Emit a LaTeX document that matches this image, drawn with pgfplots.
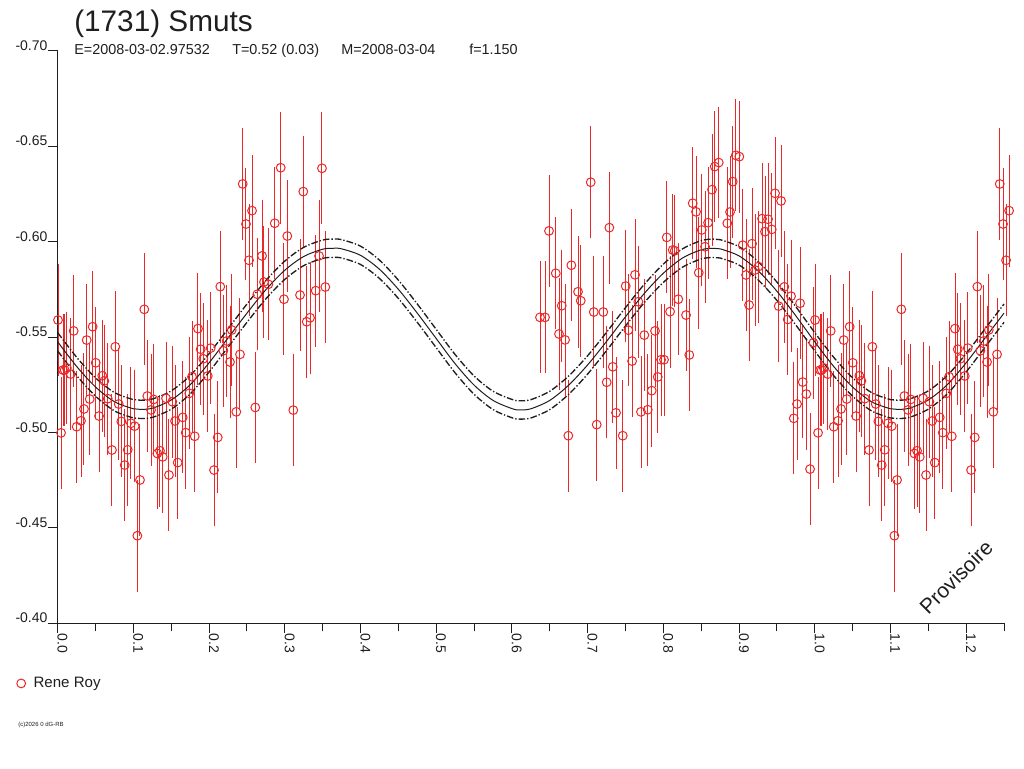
\documentclass[border=0pt]{standalone}
\usepackage{fontspec}
\setmainfont{Liberation Sans}
\usepackage{pgfplots}
\usepackage{pgfplotstable}
\pgfplotsset{compat=1.18}
\definecolor{myred}{RGB}{235,40,40}
\definecolor{ink}{RGB}{30,30,30}

\pgfplotstableread{
x y
0.0004 -0.5589
0.0044 -0.4998
0.0070 -0.5327
0.0092 -0.5327
0.0119 -0.5338
0.0172 -0.5306
0.0211 -0.5532
0.0251 -0.5030
0.0308 -0.5061
0.0347 -0.5123
0.0383 -0.5484
0.0423 -0.5175
0.0462 -0.5554
0.0502 -0.5365
0.0546 -0.5086
0.0589 -0.5297
0.0616 -0.5270
0.0661 -0.5177
0.0717 -0.4908
0.0761 -0.5449
0.0806 -0.5149
0.0840 -0.5058
0.0885 -0.4829
0.0925 -0.4909
0.0968 -0.5048
0.1017 -0.5033
0.1052 -0.4459
0.1087 -0.4751
0.1144 -0.5645
0.1184 -0.5191
0.1233 -0.5118
0.1268 -0.5173
0.1316 -0.4890
0.1351 -0.4904
0.1387 -0.4872
0.1431 -0.5179
0.1470 -0.4777
0.1514 -0.5161
0.1550 -0.5060
0.1585 -0.4842
0.1651 -0.5079
0.1691 -0.4999
0.1738 -0.5205
0.1774 -0.5292
0.1810 -0.4980
0.1853 -0.5544
0.1889 -0.5436
0.1923 -0.5386
0.1982 -0.5296
0.2021 -0.5442
0.2065 -0.4803
0.2114 -0.4974
0.2148 -0.5764
0.2188 -0.5428
0.2232 -0.5479
0.2276 -0.5369
0.2299 -0.5537
0.2359 -0.5108
0.2408 -0.5409
0.2444 -0.6302
0.2487 -0.6092
0.2527 -0.5902
0.2567 -0.6162
0.2610 -0.5131
0.2637 -0.5724
0.2699 -0.5925
0.2725 -0.5788
0.2782 -0.5776
0.2867 -0.6096
0.2946 -0.6387
0.2989 -0.5698
0.3033 -0.6029
0.3112 -0.5117
0.3201 -0.5720
0.3244 -0.6262
0.3289 -0.5580
0.3333 -0.5601
0.3408 -0.5743
0.3452 -0.5925
0.3491 -0.6384
0.3535 -0.5762
}\dataA

\pgfplotstableread{
x y
0.6371 -0.5603
0.6437 -0.5603
0.6490 -0.6056
0.6579 -0.5834
0.6622 -0.5516
0.6658 -0.5664
0.6702 -0.5485
0.6745 -0.4983
0.6785 -0.5876
0.6873 -0.5737
0.6909 -0.5690
0.7041 -0.6311
0.7081 -0.5631
0.7120 -0.5041
0.7207 -0.5631
0.7252 -0.5263
0.7287 -0.6073
0.7332 -0.5344
0.7375 -0.5103
0.7464 -0.4983
0.7503 -0.5767
0.7538 -0.5536
0.7587 -0.5374
0.7626 -0.5826
0.7670 -0.5685
0.7705 -0.5108
0.7749 -0.5510
0.7794 -0.5119
0.7847 -0.5219
0.7890 -0.5532
0.7926 -0.5291
0.7970 -0.5381
0.8009 -0.5381
0.8045 -0.6022
0.8089 -0.5633
0.8124 -0.5956
0.8151 -0.5952
0.8198 -0.5698
0.8300 -0.5615
0.8343 -0.5406
0.8388 -0.6201
0.8432 -0.6156
0.8468 -0.5837
0.8507 -0.6061
0.8551 -0.5973
0.8591 -0.6099
0.8643 -0.6272
0.8679 -0.6393
0.8732 -0.6414
0.8845 -0.6096
0.8881 -0.6155
0.8917 -0.6314
0.8957 -0.6452
0.9004 -0.6445
0.9049 -0.5981
0.9093 -0.5825
0.9132 -0.5668
0.9172 -0.5989
0.9211 -0.5851
0.9255 -0.5869
0.9304 -0.6120
0.9343 -0.6052
0.9383 -0.6117
0.9432 -0.6064
0.9476 -0.6253
0.9524 -0.5662
0.9555 -0.6213
0.9598 -0.5763
0.9643 -0.5592
0.9687 -0.5714
0.9723 -0.5074
0.9766 -0.5149
0.9806 -0.5677
0.9841 -0.5264
0.9889 -0.5201
0.9938 -0.4808
0.9982 -0.5470
}\dataB

\pgfplotstableread{
x c hi lo
0.000 -0.5475 -0.5523 -0.5427
0.025 -0.5346 -0.5394 -0.5298
0.050 -0.5238 -0.5286 -0.5190
0.075 -0.5161 -0.5209 -0.5113
0.100 -0.5124 -0.5172 -0.5076
0.109 -0.5121 -0.5169 -0.5073
0.125 -0.5127 -0.5175 -0.5079
0.150 -0.5170 -0.5218 -0.5122
0.175 -0.5250 -0.5298 -0.5202
0.200 -0.5365 -0.5413 -0.5317
0.225 -0.5495 -0.5543 -0.5447
0.250 -0.5625 -0.5673 -0.5577
0.275 -0.5748 -0.5796 -0.5700
0.300 -0.5850 -0.5898 -0.5802
0.325 -0.5922 -0.5970 -0.5874
0.350 -0.5960 -0.6008 -0.5912
0.364 -0.5965 -0.6013 -0.5917
0.375 -0.5962 -0.6010 -0.5914
0.400 -0.5928 -0.5976 -0.5880
0.425 -0.5855 -0.5903 -0.5807
0.450 -0.5750 -0.5798 -0.5702
0.475 -0.5625 -0.5673 -0.5577
0.500 -0.5492 -0.5540 -0.5444
0.525 -0.5360 -0.5408 -0.5312
0.550 -0.5248 -0.5296 -0.5200
0.575 -0.5168 -0.5216 -0.5120
0.600 -0.5125 -0.5173 -0.5077
0.610 -0.5118 -0.5166 -0.5070
0.625 -0.5124 -0.5172 -0.5076
0.650 -0.5168 -0.5216 -0.5120
0.675 -0.5248 -0.5296 -0.5200
0.700 -0.5354 -0.5402 -0.5306
0.725 -0.5477 -0.5525 -0.5429
0.750 -0.5606 -0.5654 -0.5558
0.775 -0.5729 -0.5777 -0.5681
0.800 -0.5834 -0.5882 -0.5786
0.825 -0.5913 -0.5961 -0.5865
0.850 -0.5957 -0.6005 -0.5909
0.866 -0.5965 -0.6013 -0.5917
0.875 -0.5962 -0.6010 -0.5914
0.900 -0.5925 -0.5973 -0.5877
0.925 -0.5848 -0.5896 -0.5800
0.950 -0.5740 -0.5788 -0.5692
0.975 -0.5611 -0.5659 -0.5563
1.000 -0.5475 -0.5523 -0.5427
1.025 -0.5346 -0.5394 -0.5298
1.050 -0.5238 -0.5286 -0.5190
1.075 -0.5161 -0.5209 -0.5113
1.100 -0.5124 -0.5172 -0.5076
1.109 -0.5121 -0.5169 -0.5073
1.125 -0.5127 -0.5175 -0.5079
1.150 -0.5170 -0.5218 -0.5122
1.175 -0.5250 -0.5298 -0.5202
1.200 -0.5365 -0.5413 -0.5317
1.225 -0.5495 -0.5543 -0.5447
1.250 -0.5625 -0.5673 -0.5577
}\fit

\begin{document}
\begin{tikzpicture}
\useasboundingbox (0,0) rectangle (768pt,-576pt);
\begin{axis}[
  at={(43.275pt,-467.475pt)}, anchor=south west,
  scale only axis, width=709.725pt, height=429.45pt,
  xmin=0, xmax=1.25, ymin=-0.70, ymax=-0.40, y dir=reverse,
  axis x line*=bottom, axis y line*=left,
  axis line style={-, draw=ink, line width=0.75pt},
  clip=false,
  tick align=outside, major tick length=7.5pt, minor tick length=6pt,
  every tick/.style={draw=ink, line width=0.75pt},
  xtick={0,0.1,0.2,0.3,0.4,0.5,0.6,0.7,0.8,0.9,1.0,1.1,1.2},
  xticklabels={0.0,0.1,0.2,0.3,0.4,0.5,0.6,0.7,0.8,0.9,1.0,1.1,1.2},
  minor xtick={0.05,0.15,0.25,0.35,0.45,0.55,0.65,0.75,0.85,0.95,1.05,1.15,1.25},
  ytick={-0.70,-0.65,-0.60,-0.55,-0.50,-0.45,-0.40},
  yticklabels={-0.70,-0.65,-0.60,-0.55,-0.50,-0.45,-0.40},
  tick label style={font=\fontsize{10.5}{12}\selectfont, text=ink},
  xticklabel style={rotate=-90, anchor=base west, inner sep=0pt},
  yticklabel style={anchor=south east, inner sep=0pt},
  legend style={at={(axis description cs:-0.0435,-0.105)}, anchor=west,
    draw=none, fill=none, inner sep=0pt,
    font=\fontsize{11.3}{13}\selectfont, text=ink,
    /tikz/every odd column/.append style={column sep=4pt}},
  legend cell align=left,
  legend image code/.code={\draw[#1] plot coordinates {(0pt,0pt)};},
]
\addplot[only marks, mark=o, mark size=3.3pt, mark options={draw=myred, line width=0.75pt},
  error bars/.cd, y dir=both, y fixed=0.0293, error mark=none,
  error bar style={draw=myred, line width=0.75pt}]
  table[x=x, y=y] {\dataA};
\addlegendentry{Rene Roy}
\addplot[forget plot, only marks, mark=o, mark size=3.3pt, mark options={draw=myred, line width=0.75pt},
  error bars/.cd, y dir=both, y fixed=0.0293, error mark=none,
  error bar style={draw=myred, line width=0.75pt}]
  table[x=x, y=y] {\dataB};
\addplot[forget plot, only marks, mark=o, mark size=3.3pt, mark options={draw=myred, line width=0.75pt},
  restrict x to domain=1:1.26,
  error bars/.cd, y dir=both, y fixed=0.0293, error mark=none,
  error bar style={draw=myred, line width=0.75pt}]
  table[x expr=\thisrow{x}+1, y=y] {\dataA};
\addplot[forget plot, smooth, draw=ink, line width=0.75pt] table[x=x, y=c] {\fit};
\addplot[forget plot, smooth, draw=ink, line width=1pt, dash pattern=on 5pt off 1.5pt on 1pt off 1.5pt] table[x=x, y=hi] {\fit};
\addplot[forget plot, smooth, draw=ink, line width=1pt, dash pattern=on 5pt off 1.5pt on 1pt off 1.5pt] table[x=x, y=lo] {\fit};
\end{axis}
\node[anchor=base west, inner sep=0pt, text=ink, font=\fontsize{22.3}{26}\selectfont] at (55.5pt,-23.25pt) {(1731) Smuts};
\begin{scope}[every node/.style={anchor=base west, inner sep=0pt, text=ink, font=\fontsize{10.8}{13}\selectfont}]
\node at (55.5pt,-40.5pt) {E=2008-03-02.97532};
\node at (174pt,-40.5pt) {T=0.52 (0.03)};
\node at (255.75pt,-40.5pt) {M=2008-03-04};
\node at (351.75pt,-40.5pt) {f=1.150};
\end{scope}
\node[rotate=45, text=ink, inner sep=0pt, font=\fontsize{15.75}{18}\selectfont] at (717pt,-432.75pt) {Provisoire};
\node[anchor=base west, inner sep=0pt, text=ink, font=\fontsize{4.5}{5}\selectfont] at (13.5pt,-544.5pt) {(c)2026 0 dG-RB};
\end{tikzpicture}
\end{document}
